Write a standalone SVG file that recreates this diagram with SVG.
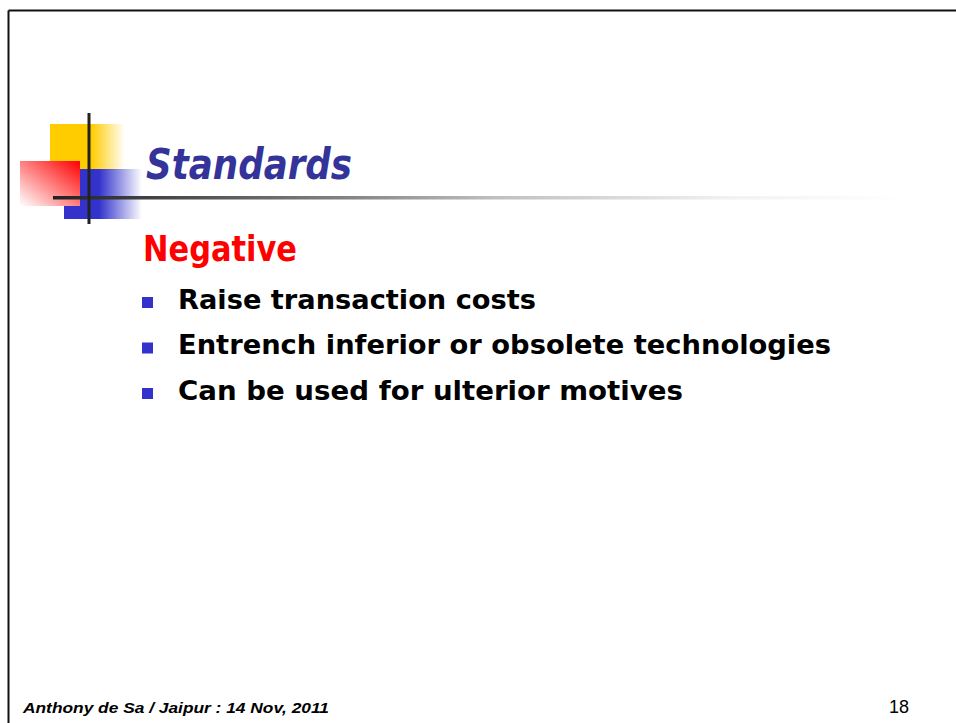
<svg xmlns="http://www.w3.org/2000/svg" width="956" height="723" viewBox="0 0 956 723">
  <style>
    .title { font-family: "DejaVu Sans", "Liberation Sans", sans-serif; font-weight: bold; font-style: italic; fill: #333399; }
    .head { font-family: "DejaVu Sans", "Liberation Sans", sans-serif; font-weight: bold; fill: #FF0000; }
    .item { font-family: "DejaVu Sans", "Liberation Sans", sans-serif; font-weight: bold; fill: #000000; font-size: 27px; }
    .bullet { fill: #3333CC; }
    .foot { font-family: "Liberation Sans", Arial, sans-serif; font-weight: bold; font-style: italic; font-size: 14px; fill: #000; }
    .num { font-family: "Liberation Sans", Arial, sans-serif; font-size: 18px; fill: #000; }
  </style>
  <defs>
    <linearGradient id="gYellow" x1="0" y1="0" x2="1" y2="0">
      <stop offset="0" stop-color="#FFCC00"/>
      <stop offset="0.55" stop-color="#FFCC00"/>
      <stop offset="1" stop-color="#FFCC00" stop-opacity="0"/>
    </linearGradient>
    <linearGradient id="gBlue" x1="0" y1="0" x2="1" y2="0">
      <stop offset="0" stop-color="#3333CC"/>
      <stop offset="0.45" stop-color="#3333CC"/>
      <stop offset="1" stop-color="#3333CC" stop-opacity="0"/>
    </linearGradient>
    <linearGradient id="gRed" x1="1" y1="0" x2="0" y2="1">
      <stop offset="0" stop-color="#FF0000"/>
      <stop offset="1" stop-color="#FFFFFF"/>
    </linearGradient>
    <linearGradient id="gLine" gradientUnits="userSpaceOnUse" x1="53" y1="0" x2="905" y2="0">
      <stop offset="0" stop-color="#222222"/>
      <stop offset="0.36" stop-color="#888888"/>
      <stop offset="0.52" stop-color="#C0C0C0"/>
      <stop offset="0.8" stop-color="#F2F2F2"/>
      <stop offset="1" stop-color="#FFFFFF"/>
    </linearGradient>
  </defs>
  <rect x="0" y="0" width="956" height="723" fill="#FFFFFF"/>
  <g id="border" stroke="#111111" stroke-width="2">
    <line x1="8.5" y1="10.5" x2="956" y2="10.5"/>
    <line x1="8.5" y1="10.5" x2="8.5" y2="723"/>
  </g>
  <g id="logo">
    <rect x="50" y="124" width="75" height="46" fill="url(#gYellow)"/>
    <rect x="64" y="169" width="78" height="50" fill="url(#gBlue)"/>
    <rect x="20" y="161" width="60" height="45" fill="url(#gRed)"/>
    <rect x="53" y="196" width="852" height="3.5" fill="url(#gLine)"/>
    <rect x="87.5" y="113" width="3" height="111" fill="#222222"/>
  </g>
  <g id="title">
    <text class="title" x="146" y="179" font-size="42" textLength="206" lengthAdjust="spacingAndGlyphs">Standards</text>
  </g>
  <g id="heading">
    <text class="head" x="143" y="261" font-size="35" textLength="154" lengthAdjust="spacingAndGlyphs">Negative</text>
  </g>
  <g id="items">
    <rect class="bullet" x="142" y="297" width="11" height="11"/>
    <text class="item" x="178" y="308.5" textLength="358" lengthAdjust="spacingAndGlyphs">Raise transaction costs</text>
    <rect class="bullet" x="142" y="342.5" width="11" height="11"/>
    <text class="item" x="178" y="354" textLength="653" lengthAdjust="spacingAndGlyphs">Entrench inferior or obsolete technologies</text>
    <rect class="bullet" x="142" y="388" width="11" height="11"/>
    <text class="item" x="178" y="399.5" textLength="505" lengthAdjust="spacingAndGlyphs">Can be used for ulterior motives</text>
  </g>
  <g id="footer">
    <text class="foot" x="23" y="712.5" textLength="306" lengthAdjust="spacingAndGlyphs">Anthony de Sa / Jaipur : 14 Nov, 2011</text>
    <text class="num" x="889" y="712.5">18</text>
  </g>
</svg>
